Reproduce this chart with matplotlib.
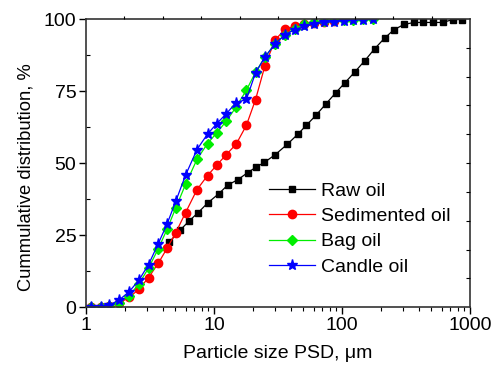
import matplotlib
matplotlib.use("Agg")
import matplotlib.pyplot as plt
from matplotlib.ticker import FixedLocator, NullFormatter, LogLocator

plt.rcParams['font.family'] = ['Liberation Sans', 'DejaVu Sans']
plt.rcParams['font.size'] = 14

# Particle size bins (µm) for the treated oils
size_treated = [1.09, 1.30, 1.50, 1.80, 2.17, 2.58, 3.08, 3.66, 4.29, 5.03,
                5.99, 7.36, 8.90, 10.5, 12.5, 14.9, 17.9, 21.1, 25.0, 30.0,
                35.9, 42.8, 50.9, 60.7, 72.3, 86.6, 102.8, 122.5, 146.7, 175.7]

# Particle size bins (µm) for the raw oil
size_raw = [4.48, 5.42, 6.41, 7.50, 8.93, 10.9, 12.8, 15.4, 18.3, 21.3,
            24.8, 30.0, 37.5, 45.1, 52.8, 62.6, 75.0, 89.8, 105.5, 125.7,
            150.4, 180.1, 215.6, 254.9, 305.0, 365.0, 431.5, 514.0, 612.0,
            732.0, 871.0]

# Cumulative distributions, %
raw_oil = [22.6, 26.7, 30.0, 32.8, 36.2, 39.4, 42.4, 44.3, 46.7, 48.6,
           50.3, 52.9, 56.6, 60.0, 63.2, 66.6, 70.6, 74.5, 77.9, 81.6,
           85.5, 89.7, 93.4, 96.3, 98.1, 98.8, 98.8, 98.8, 98.8, 99.8, 99.8]

sedimented_oil = [0.0, 0.0, 0.3, 1.4, 3.4, 6.2, 10.3, 15.2, 20.4, 25.9,
                  32.8, 40.8, 45.7, 49.3, 53.0, 56.6, 63.1, 72.0, 83.8, 92.7,
                  96.5, 97.5, 98.1, 98.5, 98.9, 99.2]

bag_oil = [0.0, 0.0, 0.5, 1.5, 4.0, 8.0, 13.6, 20.2, 27.0, 34.5,
           42.6, 51.3, 56.8, 60.5, 64.6, 69.5, 75.3, 81.5, 86.8, 91.4,
           94.5, 96.6, 98.2, 99.0, 99.4, 99.6, 99.7, 99.8, 99.9, 100.0]

candle_oil = [0.0, 0.2, 0.7, 2.4, 5.4, 9.3, 14.8, 22.0, 28.8, 36.8,
              45.8, 54.7, 60.1, 63.7, 67.2, 71.0, 72.1, 81.3, 86.8, 91.4,
              94.6, 96.3, 97.4, 98.3, 98.8, 99.1, 99.4, 99.6, 99.8, 99.9]

y_ticks = [0, 25, 50, 75, 100]
x_ticks = [1, 10, 100, 1000]
x_tick_labels = ['1', '10', '100', '1000']

fig = plt.figure(figsize=(4.92, 3.68), dpi=100)
ax = fig.add_axes([86 / 492, 1 - 307.3 / 368, 384 / 492, 288.3 / 368])

lw = 0.9
ax.plot(size_raw, raw_oil, '-s', color='black', lw=lw, ms=5, label='Raw oil')
ax.plot(size_treated[:len(sedimented_oil)], sedimented_oil, '-o', color='#ff0000',
        lw=lw, ms=6, label='Sedimented oil')
ax.plot(size_treated, bag_oil, '-D', color='#00ee00', lw=lw, ms=5, label='Bag oil')
ax.plot(size_treated, candle_oil, '-*', color='#0000ff', lw=lw, ms=8, label='Candle oil')

ax.set_xscale('log')
ax.set_xlim(1, 1000)
ax.set_ylim(0, 100)
ax.set_xticks(x_ticks)
ax.set_xticklabels(x_tick_labels)
ax.xaxis.set_minor_locator(LogLocator(base=10, subs=range(2, 10)))
ax.xaxis.set_minor_formatter(NullFormatter())
ax.set_yticks(y_ticks)
ax.yaxis.set_minor_locator(FixedLocator([12.5, 37.5, 62.5, 87.5]))

ax.tick_params(axis='x', which='major', direction='out', length=5, width=1, pad=2)
ax.tick_params(axis='x', which='minor', direction='out', length=3, width=0.8)
ax.tick_params(axis='y', which='major', direction='out', length=5, width=1, pad=2)
ax.tick_params(axis='y', which='minor', direction='in', length=3, width=0.8)

for sp in ax.spines.values():
    sp.set_linewidth(1.2)
    sp.set_color('#333333')

# Plain tick marks on the top and right frame
top = ax.twiny()
top.set_xlim(0, 1)
top.set_xticks([0.1, 0.2, 0.3, 0.4, 0.5, 0.6, 0.7, 0.8, 0.9])
top.set_xticklabels([])
top.tick_params(axis='x', direction='out', length=2, width=0.8)
right = ax.twinx()
right.set_ylim(0, 100)
right.set_yticks([10, 20, 30, 40, 50, 60, 70, 80, 90])
right.set_yticklabels([])
right.tick_params(axis='y', direction='in', length=3, width=0.8)
for a in (top, right):
    for sp in a.spines.values():
        sp.set_visible(False)

ax.set_xlabel('Particle size PSD, μm', labelpad=8)
ax.set_ylabel('Cummulative distribution, %', fontsize=13.2)
ax.yaxis.set_label_coords(-0.135, 0.452)

ax.legend(loc='center left', bbox_to_anchor=(261 / 492, 1 - 229 / 368),
          bbox_transform=fig.transFigure, frameon=False, handlelength=2.4,
          handletextpad=0.3, labelspacing=0.39, numpoints=1, borderaxespad=0)

fig.savefig('out.png', dpi=100)
